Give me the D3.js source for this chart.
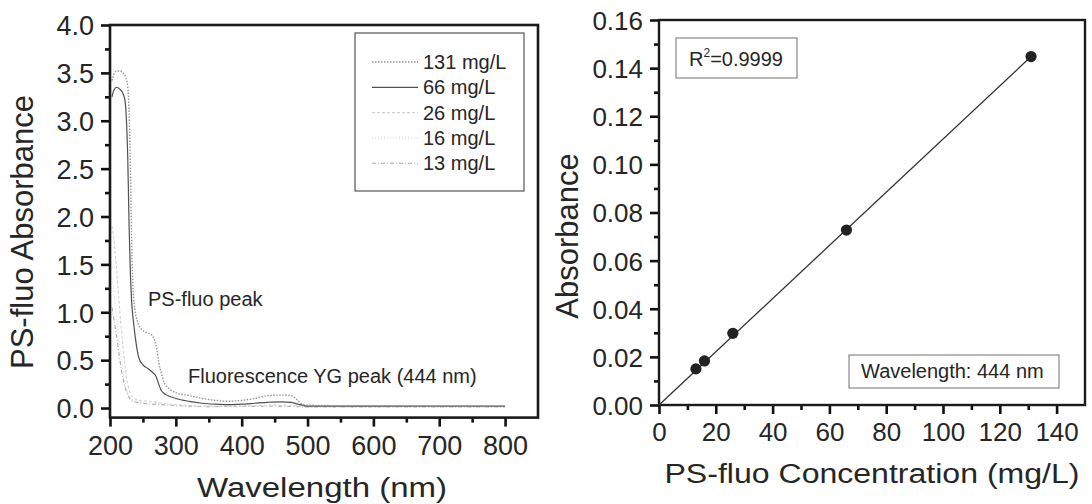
<!DOCTYPE html>
<html>
<head>
<meta charset="utf-8">
<script src="https://cdn.jsdelivr.net/npm/d3@7"></script>
<style>
  html, body { margin: 0; padding: 0; background: #ffffff; }
  svg { display: block; font-family: "Liberation Sans", Arial, sans-serif; }
</style>
</head>
<body>
<svg id="chart" width="1092" height="504"></svg>
<script>
// ---- Absorption spectra (left panel) ----
const seriesNames = ["131 mg/L", "66 mg/L", "26 mg/L", "16 mg/L", "13 mg/L"];

const wl131  = [203, 206, 210, 215, 220, 224, 227, 229, 231, 233, 235, 238, 242, 248, 255, 262, 267, 271, 274, 278, 282, 290, 300, 320, 340, 360, 380, 400, 420, 440, 460, 475, 485, 492, 500, 550, 600, 700, 800];
const abs131 = [3.42, 3.49, 3.52, 3.52, 3.50, 3.45, 3.35, 3.10, 2.50, 1.70, 1.25, 1.02, 0.90, 0.82, 0.79, 0.77, 0.72, 0.62, 0.48, 0.36, 0.27, 0.20, 0.16, 0.13, 0.10, 0.08, 0.07, 0.08, 0.10, 0.13, 0.135, 0.13, 0.08, 0.04, 0.03, 0.025, 0.025, 0.02, 0.02];

const wl66   = [203, 206, 210, 215, 220, 223, 225, 227, 229, 231, 233, 236, 240, 244, 250, 258, 265, 270, 274, 278, 285, 300, 320, 340, 360, 380, 400, 420, 440, 460, 475, 485, 495, 500, 550, 800];
const abs66  = [3.25, 3.32, 3.35, 3.33, 3.28, 3.20, 3.00, 2.60, 1.90, 1.40, 1.10, 0.88, 0.66, 0.52, 0.45, 0.41, 0.37, 0.33, 0.25, 0.18, 0.14, 0.10, 0.07, 0.05, 0.04, 0.035, 0.04, 0.05, 0.06, 0.065, 0.06, 0.04, 0.025, 0.02, 0.02, 0.02];

const wl26   = [203, 206, 210, 215, 220, 225, 230, 235, 245, 260, 280, 300, 350, 400, 444, 470, 490, 500, 800];
const abs26  = [1.90, 1.75, 1.45, 1.00, 0.62, 0.32, 0.17, 0.11, 0.08, 0.07, 0.05, 0.035, 0.02, 0.02, 0.03, 0.03, 0.02, 0.015, 0.015];

const wl16   = [203, 206, 210, 215, 220, 225, 230, 235, 250, 280, 300, 350, 444, 480, 500, 800];
const abs16  = [1.35, 1.20, 0.95, 0.62, 0.38, 0.20, 0.12, 0.08, 0.06, 0.04, 0.03, 0.02, 0.02, 0.02, 0.01, 0.01];

const wl13   = [203, 206, 210, 215, 220, 225, 230, 235, 250, 280, 300, 350, 444, 480, 500, 800];
const abs13  = [1.05, 0.92, 0.75, 0.50, 0.30, 0.17, 0.10, 0.07, 0.05, 0.035, 0.025, 0.015, 0.018, 0.015, 0.01, 0.01];

const wlTicks  = [200, 300, 400, 500, 600, 700, 800];
const absTicks = [0.0, 0.5, 1.0, 1.5, 2.0, 2.5, 3.0, 3.5, 4.0];

// ---- Calibration at 444 nm (right panel) ----
const concentration = [13, 16, 26, 66, 131];
const absorbance444 = [0.0150, 0.0183, 0.0298, 0.0727, 0.1448];
const fitConc = [0, 131];
const fitAbs  = [0.0000, 0.1448];
const concTicks = [0, 20, 40, 60, 80, 100, 120, 140];
const calTicks  = [0.00, 0.02, 0.04, 0.06, 0.08, 0.10, 0.12, 0.14, 0.16];

const svg = d3.select("#chart");
const ink = "#262626";

// line styles per spectrum
const styles = {
  "131 mg/L": { stroke: "#959595", width: 1.4, dash: "1.5,1.5" },
  "66 mg/L":  { stroke: "#505050", width: 1.2, dash: null },
  "26 mg/L":  { stroke: "#d2d2d2", width: 1.1, dash: "3,2" },
  "16 mg/L":  { stroke: "#dadada", width: 1.1, dash: "1,2" },
  "13 mg/L":  { stroke: "#aaaaaa", width: 1.1, dash: "4,2,1,2" }
};
const spectra = [
  { name: "131 mg/L", wl: wl131, a: abs131 },
  { name: "66 mg/L",  wl: wl66,  a: abs66 },
  { name: "26 mg/L",  wl: wl26,  a: abs26 },
  { name: "16 mg/L",  wl: wl16,  a: abs16 },
  { name: "13 mg/L",  wl: wl13,  a: abs13 }
];

function drawAxes(g, x, y, xMajor, xMinor, yMajor, yMinor, xFmt, yFmt, frame, fs) {
  const [x0, x1] = x.range();
  const [y0, y1] = y.range();
  // minor ticks
  g.append("g").attr("transform", `translate(0,${y0})`)
    .call(d3.axisBottom(x).tickValues(xMinor).tickSize(5).tickFormat(""))
    .call(a => a.select(".domain").remove());
  g.append("g").attr("transform", `translate(${x0},0)`)
    .call(d3.axisLeft(y).tickValues(yMinor).tickSize(5).tickFormat(""))
    .call(a => a.select(".domain").remove());
  // major ticks
  const xa = g.append("g").attr("transform", `translate(0,${y0})`)
    .call(d3.axisBottom(x).tickValues(xMajor).tickSize(9).tickPadding(5).tickFormat(xFmt));
  xa.select(".domain").remove();
  xa.selectAll("text").attr("font-size", fs).attr("fill", ink).attr("dy", "0.85em")
    .attr("font-family", "Liberation Sans, Arial, sans-serif");
  const ya = g.append("g").attr("transform", `translate(${x0},0)`)
    .call(d3.axisLeft(y).tickValues(yMajor).tickSize(9).tickPadding(7).tickFormat(yFmt));
  ya.select(".domain").remove();
  ya.selectAll("text").attr("font-size", fs).attr("fill", ink).attr("dy", "0.36em")
    .attr("font-family", "Liberation Sans, Arial, sans-serif");
  g.selectAll(".tick line").attr("stroke", "#111").attr("stroke-width", 2.6);
  // frame
  g.append("rect")
    .attr("x", x0).attr("y", y1).attr("width", x1 - x0).attr("height", y0 - y1)
    .attr("fill", "none").attr("stroke", "#1a1a1a").attr("stroke-width", frame);
}

// ================= Left panel =================
const xL = d3.scaleLinear().domain([200, 850]).range([110, 538]);
const yL = d3.scaleLinear().domain([-0.1, 4.0]).range([417.6, 25]);
const left = svg.append("g");

const lineL = d3.line().curve(d3.curveMonotoneX);
const curves = left.append("g");
spectra.slice().reverse().forEach(s => {
  const st = styles[s.name];
  curves.append("path")
    .attr("d", lineL(s.wl.map((w, i) => [xL(w), yL(s.a[i])])))
    .attr("fill", "none")
    .attr("stroke", st.stroke)
    .attr("stroke-width", st.width)
    .attr("stroke-dasharray", st.dash);
});

drawAxes(left, xL, yL,
  wlTicks, d3.range(250, 850, 100),
  absTicks, d3.range(0.25, 4.0, 0.5),
  d3.format("d"), d3.format(".1f"), 2.6, 27);

// legend
const lg = left.append("g");
lg.append("rect").attr("x", 355).attr("y", 33).attr("width", 169).attr("height", 158)
  .attr("fill", "#ffffff").attr("stroke", "#555").attr("stroke-width", 1.2);
seriesNames.forEach((n, i) => {
  const yy = 62 + i * 25.3;
  const st = styles[n];
  lg.append("line").attr("x1", 372).attr("x2", 418).attr("y1", yy).attr("y2", yy)
    .attr("stroke", st.stroke).attr("stroke-width", st.width).attr("stroke-dasharray", st.dash);
  lg.append("text").attr("x", 423).attr("y", yy + 7).attr("font-size", 20)
    .attr("fill", ink).text(n);
});

left.append("text").attr("x", 148).attr("y", 306).attr("font-size", 20).attr("fill", ink)
  .text("PS-fluo peak");
left.append("text").attr("x", 188).attr("y", 383).attr("font-size", 20).attr("fill", ink)
  .text("Fluorescence YG peak (444 nm)");

left.append("text").attr("x", 322).attr("y", 497).attr("font-size", 27)
  .attr("text-anchor", "middle").attr("fill", ink)
  .attr("textLength", 250).attr("lengthAdjust", "spacingAndGlyphs")
  .text("Wavelength (nm)");
left.append("text").attr("transform", "translate(33,232) rotate(-90)")
  .attr("font-size", 31).attr("text-anchor", "middle").attr("fill", ink)
  .text("PS-fluo Absorbance");

// ================= Right panel =================
const xR = d3.scaleLinear().domain([0, 150]).range([659, 1085]);
const yR = d3.scaleLinear().domain([0, 0.16]).range([405, 20]);
const right = svg.append("g");

drawAxes(right, xR, yR,
  concTicks, d3.range(10, 150, 20),
  calTicks, d3.range(0.01, 0.16, 0.02),
  d3.format("d"), d3.format(".2f"), 2.4, 26);

right.append("path")
  .attr("d", d3.line()(fitConc.map((c, i) => [xR(c), yR(fitAbs[i])])))
  .attr("stroke", "#333").attr("stroke-width", 1.3).attr("fill", "none");

right.append("g").selectAll("circle")
  .data(concentration)
  .join("circle")
  .attr("cx", d => xR(d))
  .attr("cy", (d, i) => yR(absorbance444[i]))
  .attr("r", 5.6)
  .attr("fill", "#222");

right.append("rect").attr("x", 676).attr("y", 38).attr("width", 121).attr("height", 40)
  .attr("fill", "#fff").attr("stroke", "#888").attr("stroke-width", 1.2);
const r2 = right.append("text").attr("x", 689).attr("y", 66).attr("font-size", 20).attr("fill", ink);
r2.append("tspan").text("R");
r2.append("tspan").attr("font-size", 12).attr("dy", -9).text("2");
r2.append("tspan").attr("dy", 9).text("=0.9999");

right.append("rect").attr("x", 849).attr("y", 355).attr("width", 210).attr("height", 33)
  .attr("fill", "#fff").attr("stroke", "#888").attr("stroke-width", 1.2);
right.append("text").attr("x", 861).attr("y", 378).attr("font-size", 20).attr("fill", ink)
  .text("Wavelength: 444 nm");

right.append("text").attr("x", 872).attr("y", 483).attr("font-size", 27)
  .attr("text-anchor", "middle").attr("fill", ink)
  .attr("textLength", 415).attr("lengthAdjust", "spacingAndGlyphs")
  .text("PS-fluo Concentration (mg/L)");
right.append("text").attr("transform", "translate(578,236) rotate(-90)")
  .attr("font-size", 31).attr("text-anchor", "middle").attr("fill", ink)
  .text("Absorbance");
</script>
</body>
</html>
